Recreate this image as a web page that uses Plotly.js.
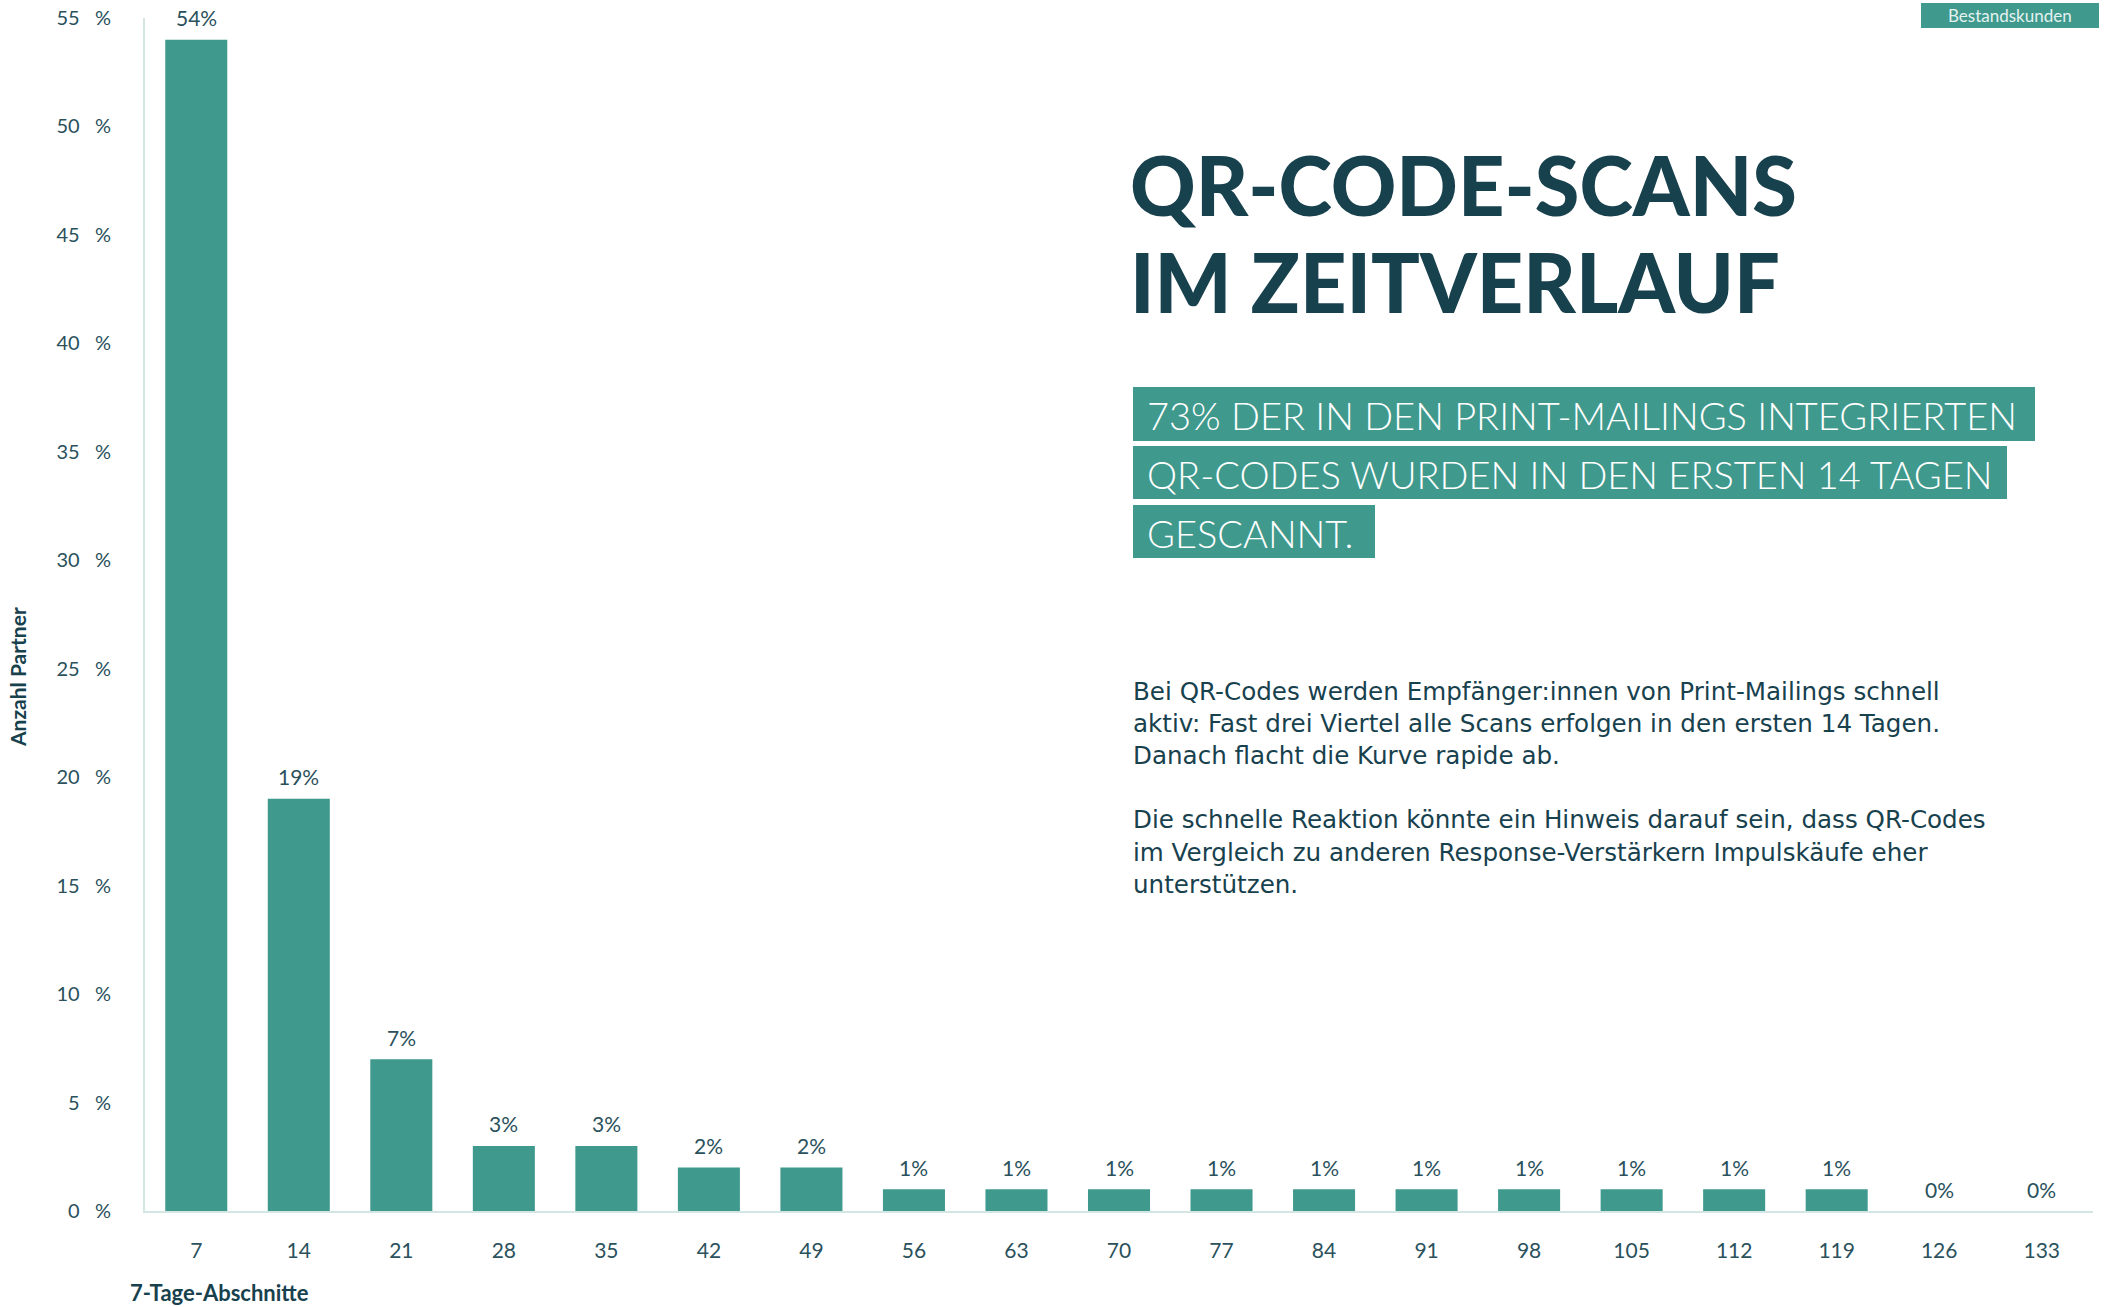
<!DOCTYPE html>
<html>
<head>
<meta charset="utf-8">
<script src="https://cdn.plot.ly/plotly-3.0.1.min.js"></script>
<style>
html,body{margin:0;padding:0;background:#fff;}
#chart{width:2105px;height:1307px;}
</style>
</head>
<body>
<div id="chart"></div>
<script>
// ---- data ----
const categories = ['7','14','21','28','35','42','49','56','63','70','77','84','91','98','105','112','119','126','133'];
const values = [54, 19, 7, 3, 3, 2, 2, 1, 1, 1, 1, 1, 1, 1, 1, 1, 1, 0, 0];
const yTicks = [0, 5, 10, 15, 20, 25, 30, 35, 40, 45, 50, 55];
const yTickLabels = yTicks.map(v => v + '\u00a0\u00a0\u00a0%');
const valueLabels = values.map(v => v + '%');

const titleLines = ['QR-CODE-SCANS', 'IM ZEITVERLAUF'];
const highlightLines = ['73% DER IN DEN PRINT-MAILINGS INTEGRIERTEN', 'QR-CODES WURDEN IN DEN ERSTEN 14 TAGEN', 'GESCANNT.'];
const bodyLines = [
  'Bei QR-Codes werden Empfänger:innen von Print-Mailings schnell',
  'aktiv: Fast drei Viertel alle Scans erfolgen in den ersten 14 Tagen.',
  'Danach flacht die Kurve rapide ab.',
  '',
  'Die schnelle Reaktion könnte ein Hinweis darauf sein, dass QR-Codes',
  'im Vergleich zu anderen Response-Verstärkern Impulskäufe eher',
  'unterstützen.'
];

// ---- style / geometry ----
const TEAL = '#3f998d';
const DARK = '#18414e';
const TXT = '#2a515c';
const FONT = 'Lato, "Open Sans", sans-serif';
const BODYFONT = '"DejaVu Sans", "Open Sans", sans-serif';
const W = 2105, H = 1307;
const L = 145, R = 2093, T = 18, B = 1211;
const px = x => (x - L) / (R - L);
const py = y => (B - y) / (B - T);

const annotations = [];
// bar value labels (x given as category index)
categories.forEach((c, i) => {
  annotations.push({x: i, y: values[i], xref: 'x', yref: 'y', text: valueLabels[i], showarrow: false,
    yanchor: 'middle', yshift: 22, font: {family: FONT, size: 21, color: TXT}});
});
// title
const titleY = [184, 281.5];
titleLines.forEach((t, i) => {
  annotations.push({x: px(1128), y: py(titleY[i]), xref: 'paper', yref: 'paper', text: t, showarrow: false,
    xanchor: 'left', yanchor: 'middle', font: {family: FONT, size: 81, color: DARK, weight: 900}});
});
// highlight boxes
const boxes = [[1133, 2035, 387, 441], [1133, 2007, 446, 499], [1133, 1375, 505, 558]];
const shapes = [];
boxes.forEach((b, i) => {
  shapes.push({type: 'rect', xref: 'paper', yref: 'paper', x0: px(b[0]), x1: px(b[1]), y0: py(b[2]), y1: py(b[3]),
    fillcolor: TEAL, line: {width: 0}, layer: 'above'});
  annotations.push({x: px(b[0] + 12), y: py((b[2] + b[3]) / 2 + 1), xref: 'paper', yref: 'paper', text: highlightLines[i],
    showarrow: false, xanchor: 'left', yanchor: 'middle', font: {family: FONT, size: 38, color: '#ffffff', weight: 300}});
});
// body text
bodyLines.forEach((t, i) => {
  if (!t) return;
  annotations.push({x: px(1131), y: py(691 + i * 32.2), xref: 'paper', yref: 'paper', text: t, showarrow: false,
    xanchor: 'left', yanchor: 'middle', font: {family: BODYFONT, size: 24.6, color: DARK}});
});
// tag box
shapes.push({type: 'rect', xref: 'paper', yref: 'paper', x0: px(1921), x1: px(2099), y0: py(3), y1: py(28),
  fillcolor: TEAL, line: {width: 0}, layer: 'above'});
annotations.push({x: px(2010), y: py(15.5), xref: 'paper', yref: 'paper', text: 'Bestandskunden', showarrow: false,
  xanchor: 'center', yanchor: 'middle', font: {family: FONT, size: 17, color: '#e4f2f0'}});
// axis titles
annotations.push({x: px(17), y: py(677), xref: 'paper', yref: 'paper', text: 'Anzahl Partner', textangle: -90, showarrow: false,
  xanchor: 'center', yanchor: 'middle', font: {family: FONT, size: 21, color: DARK, weight: 700}});
annotations.push({x: px(128), y: py(1292), xref: 'paper', yref: 'paper', text: '7-Tage-Abschnitte', showarrow: false,
  xanchor: 'left', yanchor: 'middle', font: {family: FONT, size: 22, color: DARK, weight: 700}});
// footer (cut off at the bottom edge, as in the original)
annotations.push({x: px(1930), y: py(1300), xref: 'paper', yref: 'paper', text: 'In Kooperation mit', showarrow: false,
  xanchor: 'left', yanchor: 'top', font: {family: FONT, size: 18, color: '#111111'}});

const trace = {
  type: 'bar', x: categories, y: values, marker: {color: TEAL, line: {width: 0}},
  hoverinfo: 'skip'
};

const layout = {
  width: W, height: H,
  margin: {l: L, r: W - R, t: T, b: H - B, pad: 0},
  paper_bgcolor: '#ffffff', plot_bgcolor: '#ffffff',
  showlegend: false,
  bargap: 0.395,
  font: {family: FONT, color: TXT},
  xaxis: {type: 'category', categoryorder: 'array', categoryarray: categories, range: [-0.5, categories.length - 0.5],
    autorange: false, showgrid: false, zeroline: false, showline: true, linecolor: '#d3e6e3', linewidth: 2,
    ticks: '', tickangle: 0, tickfont: {family: FONT, size: 21, color: TXT}, ticklabelstandoff: 20, fixedrange: true},
  yaxis: {range: [0, 55], autorange: false, tickvals: yTicks, ticktext: yTickLabels, showgrid: false, zeroline: false, showline: true,
    linecolor: '#d3e6e3', linewidth: 2, ticks: '', tickfont: {family: FONT, size: 20, color: TXT}, ticklabelstandoff: 28,
    fixedrange: true},
  annotations: annotations,
  shapes: shapes
};

Plotly.newPlot('chart', [trace], layout, {displayModeBar: false, staticPlot: true});
</script>
</body>
</html>
